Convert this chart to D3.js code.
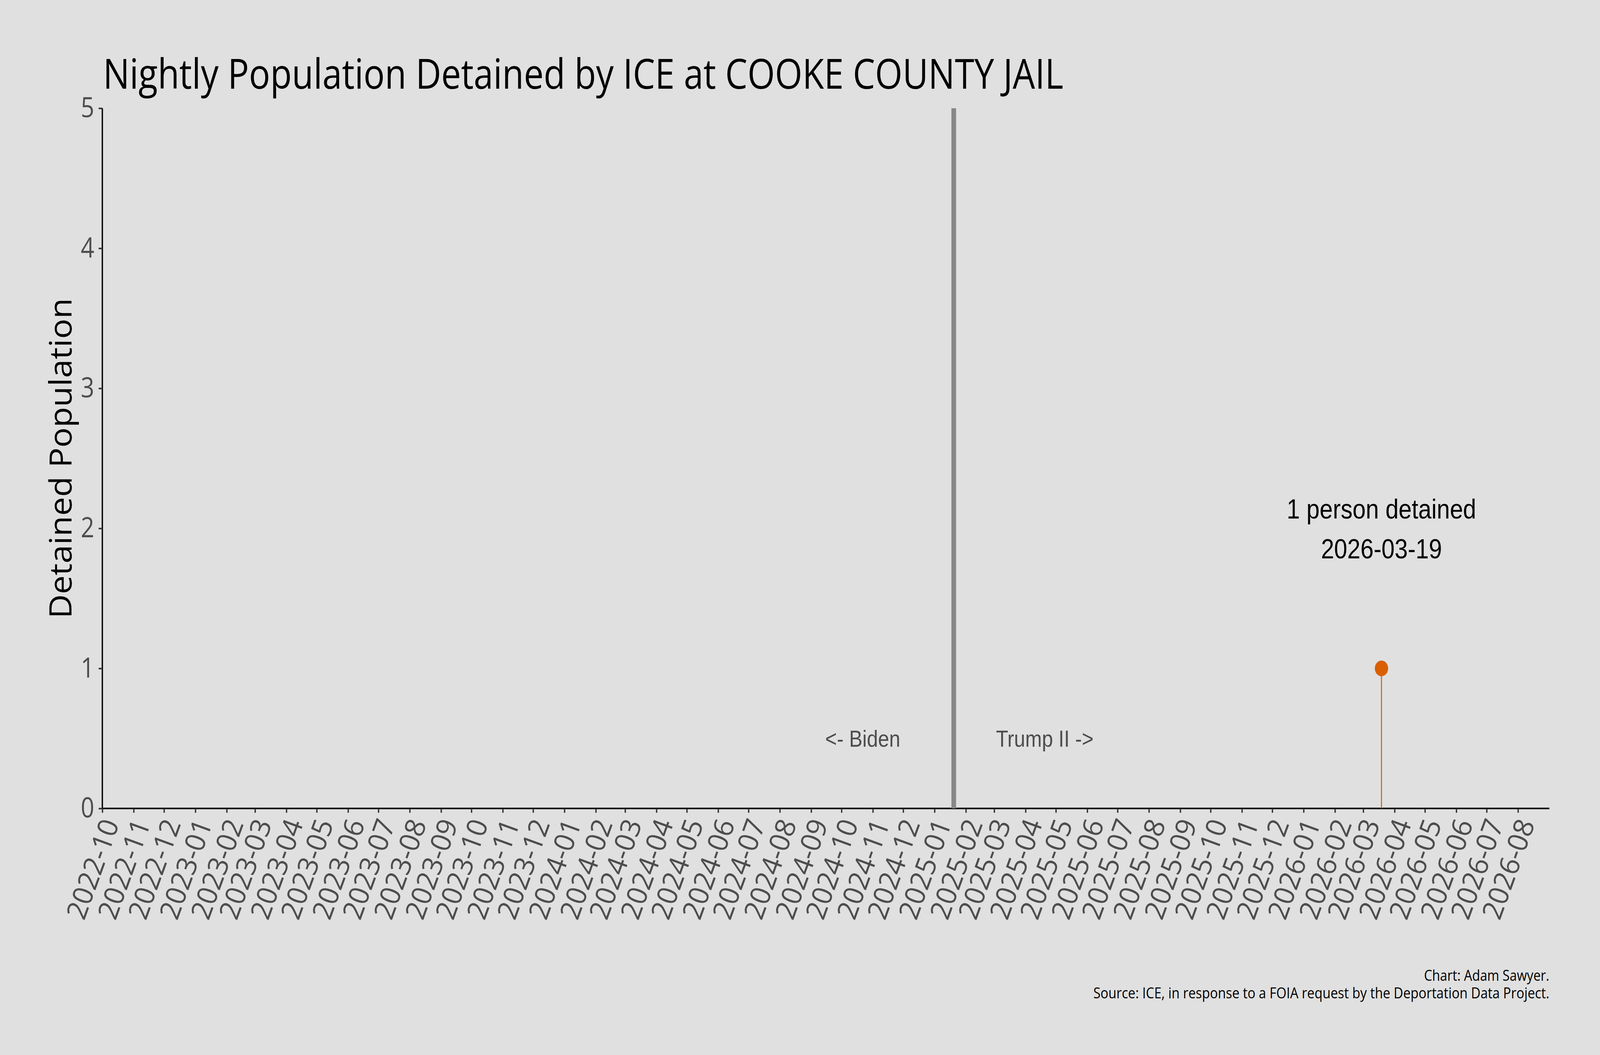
<!DOCTYPE html>
<html>
<head>
<meta charset="utf-8">
<script src="https://cdn.jsdelivr.net/npm/d3@7"></script>
<style>
  html, body { margin: 0; padding: 0; background: #e0e0e0; width: 100%; height: 100%; overflow: hidden; }
  svg { display: block; width: 100vw; height: 100vh; }
</style>
</head>
<body>
<script>
// ---------- data ----------
const titleText = "Nightly Population Detained by ICE at COOKE COUNTY JAIL";
const yTitle = "Detained Population";
const captionLines = ["Chart: Adam Sawyer.", "Source: ICE, in response to a FOIA request by the Deportation Data Project."];
const detentionDates = ["2026-03-19"];
const detentionValues = [1];
const annotationLines = ["1 person detained", "2026-03-19"];
const annotationY = 2;
const eraDate = "2025-01-20";
const eraLabels = ["<- Biden", "Trump II ->"];
const eraLabelOffsetDays = 90;
const eraLabelY = 0.5;
const xDomain = ["2022-10-01", "2026-09-01"];
const yDomain = [0, 5];
const yTicks = [0, 1, 2, 3, 4, 5];
const monthTicks = [
  "2022-10","2022-11","2022-12",
  "2023-01","2023-02","2023-03","2023-04","2023-05","2023-06","2023-07","2023-08","2023-09","2023-10","2023-11","2023-12",
  "2024-01","2024-02","2024-03","2024-04","2024-05","2024-06","2024-07","2024-08","2024-09","2024-10","2024-11","2024-12",
  "2025-01","2025-02","2025-03","2025-04","2025-05","2025-06","2025-07","2025-08","2025-09","2025-10","2025-11","2025-12",
  "2026-01","2026-02","2026-03","2026-04","2026-05","2026-06","2026-07","2026-08"
];

// ---------- layout ----------
const W = 4800, H = 2700;
const M = { left: 307, right: 4648, top: 277, bottom: 2069 };
const sans = "'Open Sans', 'Noto Sans', sans-serif";
const arial = "'Liberation Sans', Arial, sans-serif";
const accent = "#d95f02";

const parse = d3.utcParse("%Y-%m-%d");
const parseM = d3.utcParse("%Y-%m");

const svg = d3.select("body").append("svg")
  .attr("viewBox", `0 0 ${W} ${H}`)
  .attr("preserveAspectRatio", "none");

svg.append("rect").attr("width", W).attr("height", H).attr("fill", "#e0e0e0");

const x = d3.scaleUtc().domain(xDomain.map(parse)).range([M.left, M.right]);
const y = d3.scaleLinear().domain(yDomain).range([M.bottom, M.top]);

// ---------- y axis ----------
const yAxis = svg.append("g")
  .attr("transform", `translate(${M.left},0)`)
  .call(d3.axisLeft(y).tickValues(yTicks).tickFormat(d3.format("d")).tickSize(11).tickPadding(13));
yAxis.select(".domain").attr("stroke", "#000").attr("stroke-width", 4).attr("d", `M0,${M.top}V${M.bottom}`);
yAxis.selectAll(".tick line").attr("stroke", "#333").attr("stroke-width", 4);
yAxis.selectAll(".tick text")
  .attr("fill", "#4d4d4d").attr("font-family", sans).attr("font-size", 71);
yAxis.attr("font-family", null).attr("font-size", null);

// ---------- x axis ----------
const xAxis = svg.append("g")
  .attr("transform", `translate(0,${M.bottom})`)
  .call(d3.axisBottom(x).tickValues(monthTicks.map(parseM)).tickFormat(d3.utcFormat("%Y-%m")).tickSize(11));
xAxis.select(".domain").attr("stroke", "#000").attr("stroke-width", 4).attr("d", `M${M.left},0H${M.right}`);
xAxis.selectAll(".tick line").attr("stroke", "#333").attr("stroke-width", 4);
xAxis.selectAll(".tick text")
  .attr("fill", "#4d4d4d").attr("font-family", sans).attr("font-size", 71)
  .attr("text-anchor", "end")
  .attr("y", 0).attr("dy", "0.35em")
  .attr("transform", "translate(24,30) scale(1.17,1) rotate(-70)");
xAxis.attr("font-family", null).attr("font-size", null);

// ---------- era divider ----------
const eraX = x(parse(eraDate));
svg.append("line")
  .attr("x1", eraX).attr("x2", eraX)
  .attr("y1", y(yDomain[1])).attr("y2", y(0))
  .attr("stroke", "#878787").attr("stroke-width", 14);

const eraPos = [d3.utcDay.offset(parse(eraDate), -eraLabelOffsetDays), d3.utcDay.offset(parse(eraDate), eraLabelOffsetDays)];
svg.append("g").selectAll("text").data(eraLabels).join("text")
  .attr("x", (d, i) => x(eraPos[i]))
  .attr("y", y(eraLabelY))
  .attr("dy", "0.36em")
  .attr("text-anchor", "middle")
  .attr("font-family", arial).attr("font-size", 60)
  .attr("fill", "#4d4d4d")
  .text(d => d);

// ---------- lollipop ----------
const pts = detentionDates.map((d, i) => ({ date: parse(d), value: detentionValues[i] }));
svg.append("g").selectAll("line").data(pts).join("line")
  .attr("x1", d => x(d.date)).attr("x2", d => x(d.date))
  .attr("y1", y(0)).attr("y2", d => y(d.value))
  .attr("stroke", accent).attr("stroke-width", 3);
svg.append("g").selectAll("circle").data(pts).join("circle")
  .attr("cx", d => x(d.date)).attr("cy", d => y(d.value))
  .attr("r", 20).attr("fill", accent);

// annotation
const ann = svg.append("text")
  .attr("text-anchor", "middle")
  .attr("font-family", arial).attr("font-size", 71)
  .attr("fill", "#000");
const annCx = x(pts[0].date);
const annCy = y(annotationY);
annotationLines.forEach((t, i) => {
  ann.append("tspan")
    .attr("x", annCx)
    .attr("y", annCy + (i - (annotationLines.length - 1) / 2) * 102)
    .attr("dy", "0.36em")
    .text(t);
});

// ---------- titles ----------
svg.append("text")
  .attr("x", 309).attr("y", 227)
  .attr("font-family", sans).attr("font-size", 107)
  .attr("fill", "#000")
  .attr("textLength", 2881).attr("lengthAdjust", "spacingAndGlyphs")
  .text(titleText);

svg.append("text")
  .attr("transform", `translate(215,${(M.top + M.bottom) / 2}) rotate(-90)`)
  .attr("text-anchor", "middle")
  .attr("font-family", sans).attr("font-size", 93)
  .attr("fill", "#000")
  .attr("textLength", 820).attr("lengthAdjust", "spacingAndGlyphs")
  .text(yTitle);

const capWidths = [376, 1368];
svg.append("g").selectAll("text").data(captionLines).join("text")
  .attr("x", M.right)
  .attr("y", (d, i) => 2510 + i * 45)
  .attr("text-anchor", "end")
  .attr("font-family", sans).attr("font-size", 39)
  .attr("fill", "#000")
  .attr("textLength", (d, i) => capWidths[i]).attr("lengthAdjust", "spacingAndGlyphs")
  .text(d => d);
</script>
</body>
</html>
